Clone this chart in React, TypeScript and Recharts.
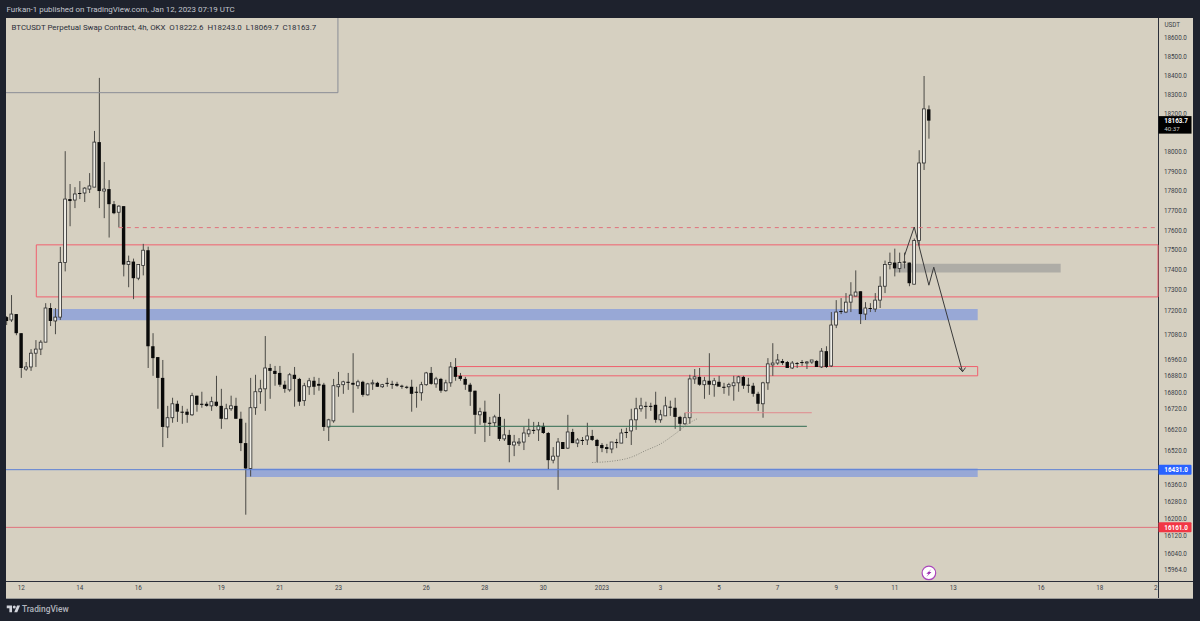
import { Bar, ComposedChart, Line, ReferenceArea, ReferenceDot, ReferenceLine, XAxis, YAxis } from "recharts";

const opens = [
  17167, 17153, 17182, 17088, 16913, 16923, 16990, 17010, 17044, 17212,
  17148, 17167, 17438, 17759, 17754, 17790, 17790, 17810, 17820, 18052,
  17800, 17810, 17733, 17692, 17723, 17428, 17443, 17360, 17423, 17500,
  17024, 16971, 16870, 16634, 16678, 16745, 16707, 16707, 16692, 16784,
  16745, 16745, 16735, 16755, 16735, 16673, 16721, 16735, 16673, 16557,
  16437, 16726, 16803, 16817, 16918, 16904, 16894, 16837, 16812, 16885,
  16865, 16760, 16827, 16856, 16841, 16837, 16634, 16663, 16827, 16837,
  16851, 16846, 16832, 16851, 16788, 16841, 16846, 16827, 16846, 16841,
  16841, 16832, 16827, 16827, 16803, 16798, 16837, 16894, 16841, 16865,
  16808, 16846, 16923, 16880, 16865, 16837, 16808, 16692, 16707, 16654,
  16654, 16682, 16577, 16596, 16548, 16557, 16562, 16601, 16620, 16620,
  16639, 16605, 16476, 16495, 16562, 16533, 16610, 16557, 16572, 16572,
  16591, 16572, 16548, 16538, 16529, 16562, 16557, 16610, 16615, 16668,
  16721, 16735, 16735, 16740, 16668, 16687, 16731, 16726, 16682, 16649,
  16678, 16865, 16875, 16837, 16856, 16837, 16851, 16827, 16827, 16832,
  16846, 16875, 16837, 16832, 16793, 16745, 16846, 16933, 16942, 16952,
  16947, 16918, 16942, 16947, 16942, 16947, 16952, 16923, 17000, 16928,
  17128, 17197, 17192, 17241, 17271, 17295, 17182, 17212, 17207, 17251,
  17320, 17428, 17438, 17409, 17443, 17438, 17330, 17549, 17944, 18222.6,
];
const highs = [
  17172, 17276, 17182, 17088, 16947, 17010, 17054, 17054, 17236, 17236,
  17212, 17517, 18005, 17836, 17820, 17851, 17820, 17892, 18110, 18388,
  17949, 17856, 17749, 17728, 17723, 17473, 17458, 17428, 17532, 17518,
  17088, 16971, 16957, 16735, 16774, 16760, 16735, 16721, 16798, 16784,
  16803, 16755, 16779, 16880, 16817, 16745, 16784, 16774, 16707, 16654,
  16870, 16885, 16861, 17074, 16938, 16928, 16928, 16856, 16894, 16923,
  16870, 16846, 16870, 16875, 16870, 16846, 16673, 16865, 16899, 16856,
  16894, 16990, 16861, 16856, 16846, 16861, 16851, 16841, 16870, 16856,
  16851, 16837, 16832, 16861, 16827, 16851, 16899, 16923, 16875, 16870,
  16861, 16947, 16966, 16894, 16875, 16846, 16808, 16726, 16760, 16682,
  16692, 16793, 16673, 16620, 16596, 16581, 16634, 16673, 16658, 16658,
  16654, 16610, 16538, 16581, 16562, 16692, 16625, 16581, 16586, 16654,
  16620, 16577, 16557, 16553, 16562, 16577, 16625, 16630, 16721, 16774,
  16774, 16755, 16750, 16803, 16716, 16779, 16760, 16774, 16687, 16702,
  16885, 16913, 16918, 16875, 16990, 16870, 16880, 16846, 16846, 16880,
  16880, 16880, 16870, 16846, 16803, 16851, 16966, 17039, 16986, 16962,
  16952, 16952, 16947, 16957, 16952, 16957, 16957, 17015, 17024, 17192,
  17251, 17261, 17286, 17340, 17399, 17295, 17241, 17236, 17286, 17369,
  17448, 17488, 17508, 17488, 17488, 17438, 17559, 18010, 18398, 18243,
];
const lows = [
  17128, 17143, 17078, 16870, 16904, 16904, 16923, 16981, 17044, 17123,
  17083, 17153, 17394, 17621, 17713, 17759, 17744, 17790, 17820, 17713,
  17662, 17564, 17682, 17615, 17369, 17315, 17256, 17350, 17374, 16918,
  16880, 16721, 16538, 16581, 16654, 16658, 16649, 16654, 16687, 16707,
  16726, 16731, 16711, 16731, 16625, 16673, 16711, 16673, 16519, 16220,
  16399, 16692, 16745, 16711, 16769, 16832, 16827, 16798, 16803, 16731,
  16735, 16735, 16788, 16788, 16808, 16615, 16567, 16654, 16779, 16793,
  16812, 16702, 16817, 16779, 16784, 16812, 16827, 16822, 16827, 16817,
  16827, 16817, 16817, 16707, 16726, 16760, 16832, 16837, 16822, 16798,
  16803, 16827, 16856, 16856, 16812, 16735, 16601, 16644, 16562, 16591,
  16634, 16567, 16567, 16466, 16495, 16543, 16524, 16586, 16601, 16567,
  16601, 16433, 16461, 16336, 16529, 16529, 16557, 16538, 16548, 16548,
  16567, 16466, 16514, 16509, 16509, 16533, 16557, 16581, 16548, 16620,
  16707, 16673, 16711, 16654, 16654, 16687, 16687, 16625, 16615, 16644,
  16649, 16841, 16832, 16769, 16788, 16779, 16827, 16793, 16784, 16760,
  16803, 16817, 16798, 16779, 16711, 16678, 16812, 16880, 16933, 16933,
  16918, 16913, 16918, 16928, 16913, 16938, 16923, 16918, 16918, 16923,
  17113, 17182, 17187, 17192, 17271, 17133, 17153, 17192, 17192, 17212,
  17286, 17404, 17369, 17389, 17409, 17320, 17330, 17523, 17908, 18069.7,
];
const closes = [
  17148, 17182, 17088, 16918, 16923, 16990, 17010, 17044, 17212, 17148,
  17167, 17438, 17759, 17749, 17785, 17785, 17815, 17826, 18052, 17800,
  17810, 17733, 17687, 17723, 17428, 17443, 17360, 17428, 17500, 17024,
  16966, 16870, 16634, 16678, 16745, 16707, 16702, 16692, 16784, 16740,
  16740, 16735, 16755, 16735, 16673, 16721, 16735, 16673, 16557, 16437,
  16726, 16803, 16817, 16918, 16904, 16889, 16837, 16817, 16885, 16865,
  16755, 16832, 16856, 16827, 16832, 16634, 16668, 16832, 16837, 16851,
  16846, 16837, 16851, 16788, 16841, 16846, 16827, 16837, 16841, 16837,
  16832, 16827, 16822, 16793, 16798, 16837, 16894, 16841, 16865, 16808,
  16846, 16923, 16875, 16865, 16837, 16803, 16692, 16707, 16654, 16649,
  16682, 16577, 16596, 16548, 16562, 16562, 16605, 16620, 16615, 16639,
  16605, 16476, 16495, 16562, 16529, 16610, 16557, 16572, 16567, 16591,
  16572, 16543, 16533, 16529, 16562, 16557, 16605, 16605, 16668, 16721,
  16735, 16731, 16731, 16668, 16692, 16735, 16726, 16682, 16649, 16678,
  16865, 16875, 16837, 16856, 16837, 16856, 16827, 16822, 16837, 16846,
  16875, 16832, 16832, 16793, 16745, 16846, 16938, 16942, 16957, 16942,
  16918, 16942, 16938, 16942, 16947, 16957, 16923, 17000, 16923, 17128,
  17192, 17192, 17241, 17276, 17291, 17182, 17212, 17207, 17251, 17320,
  17428, 17438, 17409, 17438, 17438, 17335, 17549, 17944, 18225, 18163.7,
];

const priceTicks = [
  18600, 18500, 18400, 18300, 18200, 18000, 17900, 17800, 17700, 17600, 17500, 17400, 17300, 17200,
  17080, 16960, 16880, 16800, 16720, 16620, 16520, 16360, 16280, 16200, 16120, 16040, 15964,
];
const dateTicks = [3, 15, 27, 44, 56, 68, 86, 98, 110, 122, 134, 146, 158, 170, 182, 194, 212, 224, 235.5];
const dateLabels = ["12", "14", "16", "19", "21", "23", "26", "28", "30", "2023", "3", "5", "7", "9", "11", "13", "16", "18", "2"];

// hand drawn bits from the published idea
const arcIndex = [120, 124, 128, 131, 134, 137, 140, 141.5];
const arcPrice = [16465, 16471, 16490, 16522, 16553, 16601, 16654, 16673];
const arrowIndex = [184, 186, 189, 190, 195.9, 195.2, 195.9, 196.5];
const arrowPrice = [17473, 17617, 17325, 17415, 16900, 16920, 16900, 16920];

const candles = opens.map((open, i) => ({
  i,
  wick: [lows[i], highs[i]],
  body: [Math.min(open, closes[i]), Math.max(open, closes[i])],
  up: closes[i] >= open,
}));
const arc = arcIndex.map((i, k) => ({ i, arc: arcPrice[k] }));
const arrow = arrowIndex.map((i, k) => ({ i, arrow: arrowPrice[k] }));

const xDomain = [-0.12, 235.95];
const yDomain = [15914, 18707];
const paper = "#d6d0c1";
const ink = "#2a2e39";
const red = "#f0606e";
const textFont = "Roboto, sans-serif";
const axisFont = { fontFamily: textFont, fontSize: 6.3, fill: "#3a3d47" };

function Wick(props: any) {
  const { x, y, width, height } = props;
  return <rect x={x + width / 2 - 0.5} y={y} width={1} height={Math.max(height, 1)} fill="#4b4a46" />;
}

function Body(props: any) {
  const { x, y, width, height, payload } = props;
  const h = Math.max(height, 1);
  const mid = x + width / 2;
  if (payload.up) {
    return <rect x={mid - 1.4} y={y} width={2.8} height={h} fill="#efede6" stroke="#2b2b2b" strokeWidth={0.8} />;
  }
  return <rect x={mid - 1.7} y={y} width={3.4} height={h} fill="#0a0a0a" />;
}

function PriceTag(props: any) {
  const { viewBox, text, sub, color } = props;
  const left = viewBox.x + viewBox.width + 0.5;
  const top = sub ? viewBox.y - 4.5 : viewBox.y - 5;
  const h = sub ? 17.5 : 10;
  return (
    <g>
      <rect x={left} y={top} width={33} height={h} rx={sub ? 0 : 1} fill={color} />
      <text x={left + 5.8} y={top + 7.2} fontFamily={textFont} fontSize={6.3} fontWeight={700} fill="#ffffff">
        {text}
      </text>
      {sub && (
        <text x={left + 5.8} y={top + 15} fontFamily={textFont} fontSize={6.2} fill="#c9c9c9">
          {sub}
        </text>
      )}
    </g>
  );
}

function Bolt(props: any) {
  const { cx, cy } = props;
  return (
    <g>
      <circle cx={cx} cy={cy} r={6.8} fill="#ffffff" stroke="#ab47bc" strokeWidth={1.2} />
      <path
        d={`M${cx + 2.6} ${cy - 4} L${cx - 2.6} ${cy + 0.8} L${cx - 0.2} ${cy + 0.8} L${cx - 2.6} ${cy + 4} L${cx + 2.6} ${cy - 0.8} L${cx + 0.2} ${cy - 0.8} Z`}
        fill="#9c27b0"
      />
    </g>
  );
}

export default function App() {
  return (
    <div style={{ position: "absolute", left: 0, top: 0, width: 1200, height: 621, background: "#1e222d", overflow: "hidden" }}>
      <div style={{ position: "absolute", left: 6, top: 17.5, width: 1187, height: 580, background: paper, borderBottom: "1px solid #9a9a98" }} />
      <div style={{ position: "absolute", left: 1158, top: 17.5, width: 1, height: 580, background: ink }} />
      <div style={{ position: "absolute", left: 6, top: 581, width: 1187, height: 1, background: ink }} />

      <div style={{ position: "absolute", left: 6.5, top: 4, color: "#c3c6ce", fontFamily: textFont, fontSize: 7.95, whiteSpace: "nowrap", lineHeight: "11px" }}>
        Furkan-1 published on TradingView.com, Jan 12, 2023 07:19 UTC
      </div>

      <div style={{ position: "absolute", left: 0, top: 0 }}>
        <ComposedChart width={1200} height={621} data={candles} margin={{ top: 18, left: 6, right: 7, bottom: 23 }}>
          <XAxis
            dataKey="i"
            type="number"
            domain={xDomain}
            allowDataOverflow
            ticks={dateTicks}
            interval={0}
            axisLine={false}
            tickLine={false}
            tickSize={0}
            tickMargin={5}
            height={17}
            tick={axisFont}
            tickFormatter={(v: number) => dateLabels[dateTicks.indexOf(v)]}
          />
          <XAxis xAxisId="wick" dataKey="i" type="number" domain={xDomain} allowDataOverflow hide />
          <YAxis
            orientation="right"
            scale="log"
            domain={yDomain}
            allowDataOverflow
            ticks={priceTicks}
            interval={0}
            axisLine={false}
            tickLine={false}
            tickSize={0}
            tickMargin={6}
            width={35}
            tick={{ ...axisFont, textAnchor: "start" }}
            tickFormatter={(v: number) => v.toFixed(1)}
          />

          <ReferenceLine segment={[{ x: -0.12, y: 18310 }, { x: 67.9, y: 18310 }]} stroke="#8a8d96" strokeWidth={1} />
          <ReferenceLine segment={[{ x: 67.9, y: 18310 }, { x: 67.9, y: 18707 }]} stroke="#8a8d96" strokeWidth={1} />
          <ReferenceArea x1={6.09} x2={235.95} y1={17267} y2={17527} fill="none" stroke={red} strokeWidth={1} />
          <ReferenceArea x1={9.5} x2={199} y1={17151} y2={17207} fill="#98a8d6" fillOpacity={1} stroke="none" />
          <ReferenceArea x1={49} x2={199} y1={16397} y2={16437} fill="#98a8d6" fillOpacity={1} stroke="none" />
          <ReferenceArea x1={182} x2={216} y1={17388} y2={17432} fill="#aeaca6" fillOpacity={1} stroke="none" />
          <ReferenceArea x1={92} x2={199} y1={16880} y2={16925} fill="none" stroke={red} strokeWidth={1} />

          <ReferenceLine segment={[{ x: 23, y: 17614 }, { x: 235.95, y: 17614 }]} stroke="#e0727c" strokeWidth={1} strokeDasharray="4 4" />
          <ReferenceLine segment={[{ x: 139, y: 16702 }, { x: 165, y: 16702 }]} stroke="#e08a8f" strokeWidth={1} />
          <ReferenceLine segment={[{ x: 66, y: 16637 }, { x: 164, y: 16637 }]} stroke="#2f6b50" strokeWidth={1} />
          <ReferenceLine y={16431} stroke="#5b7fd6" strokeWidth={1} label={<PriceTag text="16431.0" color="#2962ff" />} />
          <ReferenceLine y={16161} stroke="#e0727c" strokeWidth={1} label={<PriceTag text="16161.0" color="#f23645" />} />

          <Bar xAxisId="wick" dataKey="wick" barSize={3} shape={<Wick />} isAnimationActive={false} />
          <Bar dataKey="body" barSize={4} shape={<Body />} isAnimationActive={false} />

          <Line data={arc} dataKey="arc" type="monotone" stroke="#77776f" strokeWidth={0.8} strokeDasharray="1 1.5" dot={false} isAnimationActive={false} />
          <Line data={arrow} dataKey="arrow" type="linear" stroke="#3a3a3a" strokeWidth={1} dot={false} isAnimationActive={false} />

          <ReferenceLine y={18163.7} stroke="none" label={<PriceTag text="18163.7" sub="40:37" color="#000000" />} />
          <ReferenceDot x={189} y={15951} r={6} shape={<Bolt />} />
        </ComposedChart>
      </div>

      <div style={{ position: "absolute", left: 11.5, top: 22, color: "#2a2e39", fontFamily: textFont, fontSize: 7.9, lineHeight: "11px", whiteSpace: "pre" }}>
        {"BTCUSDT Perpetual Swap Contract, 4h, OKX  O18222.6  H18243.0  L18069.7  C18163.7"}
      </div>
      <div style={{ position: "absolute", left: 1164.5, top: 20, color: "#3a3d47", fontFamily: textFont, fontSize: 6.3, lineHeight: "11px" }}>USDT</div>

      <svg style={{ position: "absolute", left: 6, top: 604 }} width={15} height={9} viewBox="0 0 36 24">
        <path d="M14 22H7V11H0V4h14v18zM28 22h-8l7.5-18h8L28 22z" fill="#d1d4dc" />
        <circle cx="20" cy="8" r="4" fill="#d1d4dc" />
      </svg>
      <div style={{ position: "absolute", left: 22, top: 603, color: "#b2b5be", fontFamily: textFont, fontSize: 8.4, fontWeight: 500, lineHeight: "12px" }}>TradingView</div>
    </div>
  );
}
